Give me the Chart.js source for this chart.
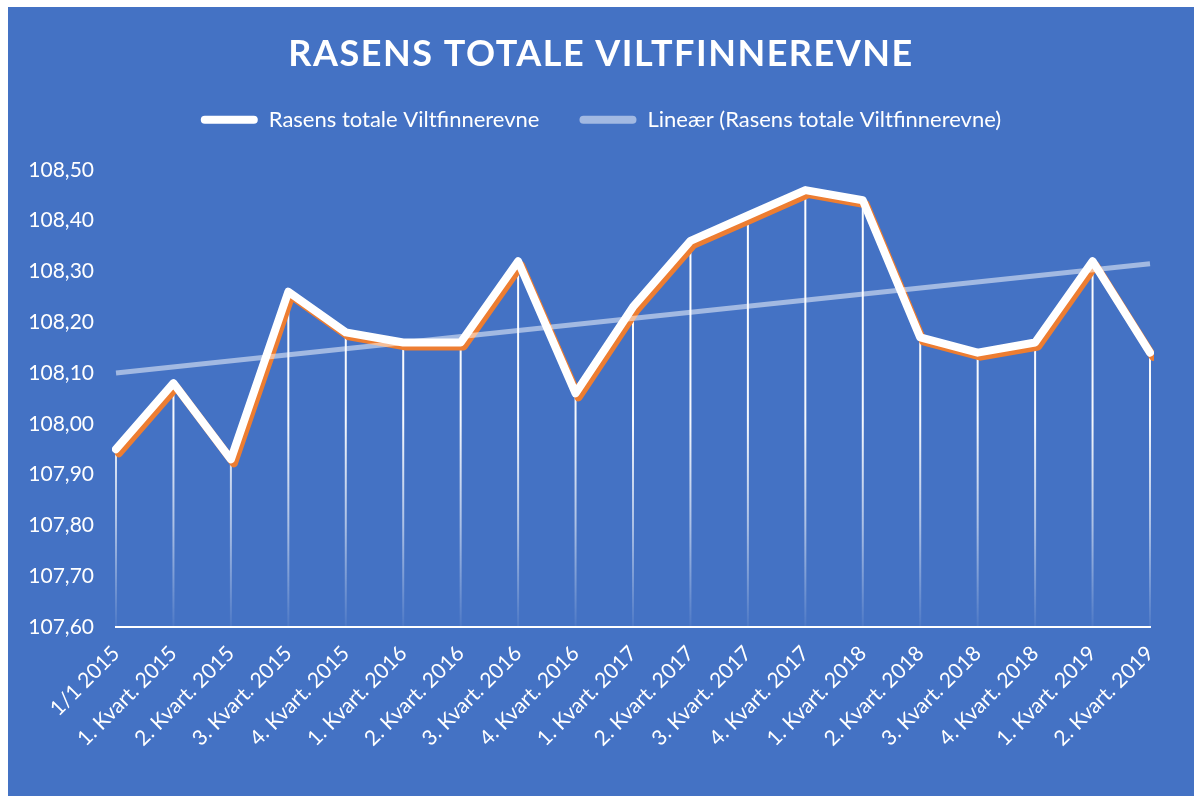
<!DOCTYPE html>
<html>
<head>
<meta charset="utf-8">
<script src="https://cdn.jsdelivr.net/npm/chart.js@4.4.1/dist/chart.umd.min.js"></script>
<style>
  html, body { margin: 0; padding: 0; background: #4472C4; overflow: hidden; width: 100%; height: 100%; }
  .strip { position: fixed; left: 0; top: 0; background: #ffffff; }
  #stripTop { width: 100%; height: 7px; }
  #stripLeft { width: 8px; height: 100%; }
  #wrap { position: absolute; left: 8px; top: 7px; width: 1186px; height: 789px; background: #4472C4; }
</style>
</head>
<body>
<div id="stripTop" class="strip"></div>
<div id="stripLeft" class="strip"></div>
<div id="wrap"><canvas id="myChart"></canvas></div>
<script>
const labels = ["1/1 2015", "1. Kvart. 2015", "2. Kvart. 2015", "3. Kvart. 2015", "4. Kvart. 2015",
  "1. Kvart. 2016", "2. Kvart. 2016", "3. Kvart. 2016", "4. Kvart. 2016",
  "1. Kvart. 2017", "2. Kvart. 2017", "3. Kvart. 2017", "4. Kvart. 2017",
  "1. Kvart. 2018", "2. Kvart. 2018", "3. Kvart. 2018", "4. Kvart. 2018",
  "1. Kvart. 2019", "2. Kvart. 2019"];
const values = [107.95, 108.08, 107.93, 108.26, 108.18, 108.16, 108.16, 108.32, 108.06,
  108.23, 108.36, 108.41, 108.46, 108.44, 108.17, 108.14, 108.16, 108.32, 108.14];
// trendline endpoints
const trendStart = 108.10;
const trendEnd = 108.315;
const yTicks = { min: 107.6, max: 108.5, step: 0.1 };

const trendData = labels.map((l, i) => i === 0 ? trendStart : (i === labels.length - 1 ? trendEnd : null));

// drop lines from each point down to the axis, white fading out
const dropLines = {
  id: "dropLines",
  beforeDatasetsDraw(chart) {
    const { ctx, chartArea, scales } = chart;
    const grad = ctx.createLinearGradient(0, chartArea.top, 0, chartArea.bottom);
    grad.addColorStop(0, "rgba(255,255,255,1)");
    grad.addColorStop(0.55, "rgba(255,255,255,0.95)");
    grad.addColorStop(0.78, "rgba(255,255,255,0.55)");
    grad.addColorStop(1, "rgba(255,255,255,0.05)");
    ctx.save();
    ctx.strokeStyle = grad;
    ctx.lineWidth = 2;
    values.forEach((v, i) => {
      const x = scales.x.getPixelForValue(i);
      ctx.beginPath();
      ctx.moveTo(x, scales.y.getPixelForValue(v));
      ctx.lineTo(x, chartArea.bottom);
      ctx.stroke();
    });
    ctx.restore();
  }
};

// orange offset shadow under the main line
const lineShadow = {
  id: "lineShadow",
  beforeDatasetDraw(chart, args) {
    if (args.index !== 0) return;
    const ctx = chart.ctx;
    ctx.save();
    ctx.shadowColor = "#ED7D31";
    ctx.shadowOffsetX = 3;
    ctx.shadowOffsetY = 4;
    ctx.shadowBlur = 0;
  },
  afterDatasetDraw(chart, args) {
    if (args.index !== 0) return;
    chart.ctx.restore();
  }
};

const fontFamily = "Lato, 'Open Sans', sans-serif";

const chart = new Chart(document.getElementById("myChart"), {
  type: "line",
  data: {
    labels: labels,
    datasets: [
      {
        label: "Rasens totale Viltfinnerevne",
        data: values,
        borderColor: "#ffffff",
        backgroundColor: "#ffffff",
        borderWidth: 8,
        borderJoinStyle: "round",
        borderCapStyle: "round",
        pointRadius: 0,
        tension: 0,
        order: 1
      },
      {
        label: "Lineær (Rasens totale Viltfinnerevne)",
        data: trendData,
        spanGaps: true,
        borderColor: "rgba(255,255,255,0.5)",
        backgroundColor: "rgba(255,255,255,0.5)",
        borderWidth: 5,
        pointRadius: 0,
        order: 0
      }
    ]
  },
  options: {
    responsive: true,
    maintainAspectRatio: false,
    animation: false,
    layout: { padding: 0 },
    plugins: {
      title: {
        display: true,
        text: "RASENS TOTALE VILTFINNEREVNE",
        color: "#ffffff",
        font: { family: fontFamily, size: 36, weight: "bold", lineHeight: 0.8 },
        padding: { top: 33, bottom: 0 }
      },
      subtitle: {
        display: true,
        text: "",
        weight: 500,
        font: { size: 1, lineHeight: 1 },
        padding: { top: 0, bottom: 28 }
      },
      legend: {
        display: true,
        labels: {
          color: "#ffffff",
          font: { family: fontFamily, size: 22 },
          boxWidth: 57,
          boxHeight: 8,
          useBorderRadius: true,
          borderRadius: 4,
          padding: 40,
          sort: (a, b) => a.datasetIndex - b.datasetIndex,
          generateLabels(chart) {
            return Chart.defaults.plugins.legend.labels.generateLabels(chart).map(item => {
              item.fillStyle = item.strokeStyle;
              item.lineWidth = 0;
              return item;
            });
          }
        }
      },
      tooltip: { enabled: false }
    },
    scales: {
      x: {
        grid: { display: false },
        border: { display: true, color: "#ffffff", width: 2 },
        ticks: {
          color: "#ffffff",
          font: { family: fontFamily, size: 21 },
          maxRotation: 45,
          minRotation: 45,
          autoSkip: false,
          padding: 6
        },
        afterFit(scale) { scale.height = 169; }
      },
      y: {
        min: yTicks.min,
        max: yTicks.max,
        grid: { display: false },
        border: { display: false },
        ticks: {
          stepSize: yTicks.step,
          color: "#ffffff",
          font: { family: fontFamily, size: 21 },
          padding: 14,
          callback: v => v.toFixed(2).replace(".", ",")
        },
        afterFit(scale) { scale.width = 108; }
      },
      // empty right-hand axis, only to keep space right of the plot
      yRight: {
        position: "right",
        display: true,
        grid: { display: false },
        border: { display: false },
        ticks: { display: false },
        afterFit(scale) { scale.width = 44; }
      }
    }
  },
  plugins: [dropLines, lineShadow]
});

// spaced-out title letters like the original
const titleBox = chart.titleBlock;
const drawTitle = titleBox.draw.bind(titleBox);
titleBox.draw = function (area) {
  chart.ctx.save();
  chart.ctx.letterSpacing = "1.5px";
  drawTitle(area);
  chart.ctx.restore();
};
chart.draw();
</script>
</body>
</html>
